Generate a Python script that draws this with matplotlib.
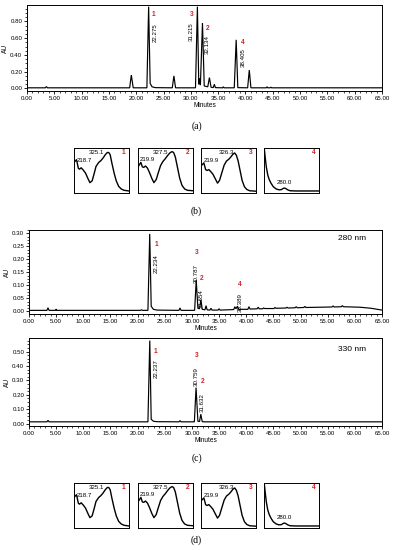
import matplotlib
matplotlib.use("Agg")
import matplotlib.pyplot as plt
from matplotlib.ticker import MultipleLocator, FormatStrFormatter

plt.rcParams['font.family'] = ['Liberation Sans', 'DejaVu Sans']

# ---------------- data ----------------
# (a) chromatogram
a_time = [0, 3.35, 3.55, 3.75, 18.8, 19.1, 19.45, 21.95, 22.27, 22.55, 22.9, 23.5,
          26.6, 26.9, 27.2, 30.85, 31.2, 31.45, 31.6, 31.75, 32.13, 32.45, 33.1, 33.4,
          33.7, 34.1, 34.3, 34.5, 35.8, 35.95, 36.1, 37.95, 38.3, 38.6, 40.4, 40.7,
          41.0, 43.8, 43.95, 44.1, 44.5, 44.65, 44.8, 65]
a_au = [0.008, 0.008, 0.022, 0.008, 0.008, 0.16, 0.008, 0.008, 0.975, 0.06, 0.02, 0.01,
        0.008, 0.15, 0.008, 0.008, 0.975, 0.05, 0.12, 0.04, 0.78, 0.03, 0.02, 0.13,
        0.015, 0.01, 0.05, 0.01, 0.008, 0.02, 0.008, 0.008, 0.58, 0.01, 0.008, 0.22,
        0.008, 0.008, 0.02, 0.008, 0.008, 0.015, 0.008, 0.008]
a_rt = ['22.275', '31.215', '32.134', '38.405']
a_peak_no = ['1', '3', '2', '4']

# (c) 280 nm chromatogram
c1_time = [0, 3.3, 3.5, 3.7, 4.9, 5.0, 5.1, 20.5, 20.7, 20.9, 21.9, 22.23, 22.5, 22.9, 23.6,
           27.6, 27.8, 28.0, 30.5, 30.79, 31.1, 31.4, 31.65, 31.9, 32.4, 32.6, 32.8,
           33.3, 33.5, 33.7, 34.8, 35.0, 35.2, 37.7, 37.9, 38.1, 38.39, 38.6, 40.3, 40.5,
           40.7, 42.0, 42.2, 42.4, 43.0, 43.2, 43.4, 45.1, 45.3, 45.5, 47.3, 47.5, 47.7,
           49.0, 49.2, 49.4, 50.6, 50.8, 51.0, 55.8, 56.0, 56.2, 57.5, 57.7, 57.9,
           61.0, 63.0, 65.0]
c1_au = [0.004, 0.004, 0.014, 0.004, 0.004, 0.009, 0.004, 0.004, 0.006, 0.004, 0.004, 0.298, 0.02, 0.008, 0.005,
         0.004, 0.013, 0.004, 0.004, 0.12, 0.012, 0.01, 0.045, 0.008, 0.006, 0.022, 0.006,
         0.005, 0.012, 0.005, 0.005, 0.01, 0.005, 0.007, 0.018, 0.01, 0.02, 0.008, 0.008, 0.018,
         0.009, 0.01, 0.016, 0.01, 0.01, 0.013, 0.011, 0.011, 0.015, 0.012, 0.013, 0.016, 0.013,
         0.014, 0.018, 0.014, 0.015, 0.019, 0.015, 0.017, 0.021, 0.017, 0.018, 0.022, 0.018,
         0.016, 0.012, 0.005]
c1_rt = ['22.234', '30.787', '31.654', '38.389']
c1_peak_no = ['1', '3', '2', '4']

# (c) 330 nm chromatogram
c2_time = [0, 3.3, 3.5, 3.7, 21.9, 22.24, 22.5, 22.9, 23.6, 27.6, 27.8, 28.0,
           30.45, 30.76, 31.1, 31.4, 31.63, 31.9, 32.4, 65.0]
c2_au = [0.012, 0.012, 0.022, 0.012, 0.012, 0.577, 0.03, 0.016, 0.013, 0.012, 0.02, 0.012,
         0.012, 0.25, 0.016, 0.014, 0.065, 0.013, 0.012, 0.012]
c2_rt = ['22.237', '30.759', '31.632']
c2_peak_no = ['1', '3', '2']

# UV spectra (wavelength nm, relative absorbance)
s1_wl = [210, 218.7, 225, 229, 234.7, 242, 250, 257.5, 265, 272.7, 280, 286, 295.5, 303,
         310.7, 318, 325.1, 330, 335, 341, 348.7, 356, 364, 373, 383, 400]
s1_ab = [0.68, 0.74, 0.55, 0.53, 0.56, 0.51, 0.44, 0.33, 0.23, 0.27, 0.44, 0.59, 0.68, 0.72,
         0.78, 0.85, 0.90, 0.90, 0.85, 0.66, 0.44, 0.27, 0.15, 0.09, 0.06, 0.045]
s2_wl = [210, 219.9, 225, 230, 236, 243, 250, 258, 265, 273, 281, 288, 296, 304, 312, 320,
         327.5, 333, 339, 346, 354, 362, 371, 381, 400]
s2_ab = [0.58, 0.68, 0.58, 0.57, 0.60, 0.55, 0.45, 0.32, 0.23, 0.30, 0.47, 0.61, 0.70, 0.76,
         0.83, 0.89, 0.92, 0.90, 0.80, 0.58, 0.33, 0.17, 0.09, 0.06, 0.05]
s3_wl = [210, 219.9, 226, 231, 237, 243, 251, 259, 267, 274, 282, 290, 298, 306, 313, 320,
         326.3, 332, 338, 345, 352, 360, 368, 378, 400]
s3_ab = [0.60, 0.67, 0.52, 0.50, 0.52, 0.48, 0.42, 0.32, 0.22, 0.28, 0.45, 0.62, 0.71, 0.75,
         0.80, 0.86, 0.89, 0.84, 0.72, 0.50, 0.28, 0.14, 0.08, 0.05, 0.04]
s4_wl = [210, 214, 218, 223, 228, 234, 242, 252, 262, 270, 276, 280, 285, 292, 300, 320, 400]
s4_ab = [1.05, 0.80, 0.58, 0.40, 0.30, 0.22, 0.14, 0.09, 0.07, 0.075, 0.10, 0.11, 0.10, 0.07,
         0.05, 0.045, 0.045]
spec_max_labels = [['218.7', '325.1'], ['219.9', '327.5'], ['219.9', '326.3'], ['280.0']]
spec_names = ['1', '2', '3', '4']
panel_labels = ['(a)', '(b)', '(c)', '(d)']

# ---------------- figure ----------------
W, H = 393, 550
fig = plt.figure(figsize=(W / 100, H / 100), dpi=100)
RED = '#d61f26'
FS = 4.4


def ax_px(l, t, r, b):
    return fig.add_axes([l / W, 1 - b / H, (r - l) / W, (b - t) / H])


def chrom(ax, t, y, ylim, ystep):
    ax.plot(t, y, color='black', lw=0.85, solid_joinstyle='miter')
    ax.set_xlim(0, 65)
    ax.set_ylim(*ylim)
    ax.xaxis.set_major_locator(MultipleLocator(5))
    ax.xaxis.set_minor_locator(MultipleLocator(1))
    ax.yaxis.set_major_locator(MultipleLocator(ystep))
    ax.yaxis.set_minor_locator(MultipleLocator(ystep / 4))
    ax.xaxis.set_major_formatter(FormatStrFormatter('%.2f'))
    ax.yaxis.set_major_formatter(FormatStrFormatter('%.2f'))
    ax.tick_params(which='major', direction='out', length=2.5, width=0.6,
                   labelsize=FS, pad=1)
    ax.tick_params(which='minor', direction='out', length=1.3, width=0.5)
    for s in ax.spines.values():
        s.set_linewidth(0.7)
    ax.set_ylabel('AU', fontsize=FS + 0.3, labelpad=1)
    ax.set_xlabel('Minutes', fontsize=FS + 0.3, labelpad=0.5)


def annotate(ax, rt_labels, nums, num_pos, rt_pos):
    for lab, n, (nx, ny), (rx, ry) in zip(rt_labels, nums, num_pos, rt_pos):
        ax.text(nx, ny, n, color=RED, fontsize=FS + 0.4, fontweight='bold',
                ha='center', va='center')
        ax.text(rx, ry, lab, rotation=90, fontsize=FS, ha='center', va='center')


# (a)
axa = ax_px(27, 5, 382, 91)
chrom(axa, a_time, a_au, (-0.03, 0.995), 0.2)
annotate(axa, a_rt, a_peak_no,
         [(23.2, 0.88), (30.2, 0.88), (33.0, 0.72), (39.5, 0.55)],
         [(23.4, 0.665), (30.1, 0.68), (33.0, 0.53), (39.6, 0.365)])

# (c) 280 nm
axc1 = ax_px(29, 230, 382, 314)
chrom(axc1, c1_time, c1_au, (-0.01, 0.313), 0.05)
annotate(axc1, c1_rt, c1_peak_no,
         [(23.4, 0.258), (30.8, 0.227), (31.8, 0.128), (38.8, 0.104)],
         [(23.5, 0.185), (30.8, 0.145), (31.8, 0.048), (38.9, 0.035)])
axc1.text(0.955, 0.9, '280 nm', transform=axc1.transAxes, ha='right', va='center',
          fontsize=FS + 1.6)

# (c) 330 nm
axc2 = ax_px(29, 338, 382, 426)
chrom(axc2, c2_time, c2_au, (-0.017, 0.595), 0.1)
annotate(axc2, c2_rt, c2_peak_no,
         [(23.3, 0.50), (30.8, 0.47), (31.9, 0.29)],
         [(23.4, 0.38), (30.8, 0.325), (31.9, 0.145)])
axc2.text(0.955, 0.87, '330 nm', transform=axc2.transAxes, ha='right', va='center',
          fontsize=FS + 1.6)

# spectra boxes
spectra = [(s1_wl, s1_ab), (s2_wl, s2_ab), (s3_wl, s3_ab), (s4_wl, s4_ab)]
lab_pos = [[(0.05, 0.72), (0.27, 0.90)], [(0.03, 0.74), (0.26, 0.90)],
           [(0.05, 0.73), (0.32, 0.90)], [(0.23, 0.23)]]
box_x = [(74, 129), (138, 193), (201, 256), (264, 319)]
for (top, bot) in [(148, 193), (483, 528)]:
    for i, ((l, r), (wl, ab)) in enumerate(zip(box_x, spectra)):
        ax = ax_px(l, top, r, bot)
        ax.plot(wl, ab, color='black', lw=1.0)
        ax.set_xlim(210, 400)
        ax.set_ylim(0, 1.0)
        ax.set_xticks([])
        ax.set_yticks([])
        for s in ax.spines.values():
            s.set_linewidth(0.7)
        for txt, (px, py) in zip(spec_max_labels[i], lab_pos[i]):
            ax.text(px, py, txt, transform=ax.transAxes, fontsize=FS,
                    ha='left', va='center')
        ax.text(0.9, 0.89, spec_names[i], transform=ax.transAxes, color=RED,
                fontsize=FS + 0.4, fontweight='bold', ha='center', va='center')

# panel labels
for lab, y in zip(panel_labels, [126, 211, 458, 540]):
    fig.text(0.5, 1 - y / H, lab, ha='center', va='center', fontsize=7,
             family=['Liberation Serif', 'DejaVu Serif'])

fig.savefig('out.png', dpi=100)
